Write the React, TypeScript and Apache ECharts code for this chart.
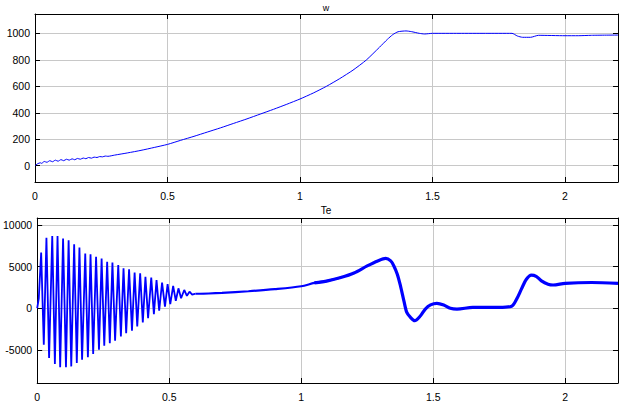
import React, { useEffect, useRef } from "react";
import * as echarts from "echarts";

const xTicks = [0, 0.5, 1, 1.5, 2];
const wTicks = [0, 200, 400, 600, 800, 1000];
const teTicks = [-5000, 0, 5000, 10000];

const wTime = [
  0, 0.01, 0.02, 0.025, 0.035, 0.045, 0.056, 0.066, 0.077, 0.087, 0.098, 0.108,
  0.119, 0.129, 0.14, 0.15, 0.16, 0.171, 0.182, 0.192, 0.202, 0.213, 0.223,
  0.234, 0.244, 0.255, 0.265, 0.275, 0.3, 0.35, 0.4, 0.45, 0.5, 0.55, 0.6,
  0.65, 0.7, 0.75, 0.8, 0.85, 0.9, 0.95, 1.0, 1.05, 1.1, 1.15, 1.2, 1.25, 1.3,
  1.33, 1.35, 1.37, 1.4, 1.42, 1.45, 1.47, 1.5, 1.6, 1.7, 1.8, 1.82, 1.84,
  1.87, 1.9, 2.0, 2.05, 2.1, 2.2,
];
const wValues = [
  0, 15, 22, 18, 32, 26, 38, 30, 42, 34, 46, 38, 49, 42, 52, 45, 55, 49, 58,
  53, 62, 57, 65, 62, 69, 67, 73, 71, 80, 97, 116, 138, 161, 192, 222, 254,
  286, 320, 354, 390, 426, 464, 504, 549, 600, 658, 722, 798, 895, 955, 990,
  1012, 1018, 1013, 1000, 995, 1000, 1000, 1000, 1000, 980, 970, 970, 985,
  982, 982, 985, 987,
];

const teOscTime = [
  0, 0.006, 0.015, 0.025, 0.035, 0.045, 0.057, 0.067, 0.077, 0.087, 0.098,
  0.109, 0.119, 0.129, 0.14, 0.15, 0.16, 0.17, 0.182, 0.192, 0.202, 0.212,
  0.223, 0.234, 0.244, 0.254, 0.265, 0.275, 0.285, 0.295, 0.307, 0.317, 0.327,
  0.337, 0.348, 0.359, 0.369, 0.379, 0.39, 0.4, 0.41, 0.42, 0.432, 0.442,
  0.452, 0.462, 0.473, 0.484, 0.494, 0.504, 0.515, 0.525, 0.535, 0.545, 0.557,
  0.567, 0.577, 0.587, 0.6,
];
const teOscValues = [
  0, 1200, 6700, -4400, 8500, -6000, 8700, -6700, 8700, -7100, 8400, -7100,
  8200, -7000, 7700, -6600, 7300, -6200, 6600, -5900, 6500, -5500, 6200,
  -5000, 6000, -4500, 5600, -4200, 5500, -3900, 5200, -3400, 4800, -3000,
  4700, -2700, 4300, -2200, 4200, -1700, 3800, -1200, 3700, -700, 3400, -300,
  3100, 200, 2900, 500, 2700, 900, 2400, 1200, 2200, 1500, 2000, 1650, 1750,
];

const teMidTime = [0.6, 0.65, 0.7, 0.8, 0.9, 1.0, 1.05, 1.1, 1.15];
const teMidValues = [1750, 1780, 1850, 2050, 2300, 2650, 3050, 3300, 3700];

const teTime = [
  1.05, 1.1, 1.15, 1.2, 1.25, 1.29, 1.32, 1.339, 1.351, 1.364, 1.376, 1.389,
  1.4, 1.414, 1.43, 1.452, 1.47, 1.49, 1.514, 1.54, 1.565, 1.59, 1.65, 1.75,
  1.797, 1.816, 1.834, 1.853, 1.872, 1.89, 1.91, 1.935, 1.954, 2.0, 2.1, 2.2,
];
const teValues = [
  3050, 3300, 3700, 4250, 5100, 5700, 6000, 5700, 5100, 4100, 2700, 900, -500,
  -1100, -1500, -900, -100, 400, 600, 400, 0, -100, 100, 100, 250, 1100, 2300,
  3500, 4000, 3850, 3300, 2900, 2800, 3000, 3100, 3000,
];

const zip = (t: number[], v: number[]) => t.map((x, i) => [x, v[i]]);

const FONT = "'Liberation Sans', Arial, sans-serif";
const BLUE = "#0000ff";

export default function App() {
  const ref = useRef<HTMLDivElement>(null);
  useEffect(() => {
    if (!ref.current) return;
    const chart = echarts.init(ref.current, null, { renderer: "svg" });
    const frame = { show: true, onZero: false, lineStyle: { color: "#000", width: 1 } };
    const gridLine = { show: true, lineStyle: { color: "#c8c8c8", width: 1 } };
    const tick = { show: true, inside: true, length: 5, lineStyle: { color: "#000" } };
    const xMain = (gi: number) => ({
      type: "value",
      gridIndex: gi,
      min: 0,
      max: 2.2,
      interval: 0.5,
      position: "bottom",
      axisLine: frame,
      axisTick: tick,
      splitLine: gridLine,
      axisLabel: {
        color: "#000",
        fontSize: 10.5,
        fontFamily: FONT,
        margin: 8,
        showMaxLabel: false,
        formatter: (v: number) => (xTicks.includes(v) ? String(v) : ""),
      },
    });
    const xTop = (gi: number) => ({
      type: "value",
      gridIndex: gi,
      min: 0,
      max: 2.2,
      interval: 0.5,
      position: "top",
      axisLine: frame,
      axisTick: tick,
      splitLine: { show: false },
      axisLabel: { show: false },
    });
    const yMain = (gi: number, min: number, max: number, ticks: number[]) => ({
      type: "value",
      gridIndex: gi,
      min,
      max,
      position: "left",
      axisLine: frame,
      axisTick: { ...tick, customValues: ticks },
      splitLine: gridLine,
      axisLabel: {
        color: "#000",
        fontSize: 10.5,
        fontFamily: FONT,
        margin: 5,
        customValues: ticks,
        formatter: (v: number) => String(v),
      },
    });
    const yRight = (gi: number, min: number, max: number, ticks: number[]) => ({
      type: "value",
      gridIndex: gi,
      min,
      max,
      position: "right",
      axisLine: frame,
      axisTick: { ...tick, customValues: ticks },
      splitLine: { show: false },
      axisLabel: { show: false, customValues: ticks },
    });

    chart.setOption({
      animation: false,
      backgroundColor: "#fff",
      grid: [
        { left: 35, top: 14, right: 3, height: 168 },
        { left: 35, top: 218, right: 3, height: 167 },
      ],
      xAxis: [xMain(0), xTop(0), xMain(1), xTop(1)],
      yAxis: [
        yMain(0, -123, 1146, wTicks),
        yRight(0, -123, 1146, wTicks),
        yMain(1, -9000, 10870, teTicks),
        yRight(1, -9000, 10870, teTicks),
      ],
      graphic: [
        {
          type: "text",
          x: 326,
          y: 3,
          style: { text: "w", fill: "#000", font: `9px ${FONT}`, textAlign: "center" },
        },
        {
          type: "text",
          x: 326,
          y: 205,
          style: { text: "Te", fill: "#000", font: `10px ${FONT}`, textAlign: "center" },
        },
      ],
      series: [
        {
          type: "line",
          xAxisIndex: 0,
          yAxisIndex: 0,
          data: zip(wTime, wValues),
          showSymbol: false,
          smooth: 0.2,
          lineStyle: { color: BLUE, width: 1 },
        },
        {
          type: "line",
          xAxisIndex: 2,
          yAxisIndex: 2,
          data: zip(teOscTime, teOscValues),
          showSymbol: false,
          lineStyle: { color: BLUE, width: 1.8 },
        },
        {
          type: "line",
          xAxisIndex: 2,
          yAxisIndex: 2,
          data: zip(teMidTime, teMidValues),
          showSymbol: false,
          smooth: 0.3,
          lineStyle: { color: BLUE, width: 2.2 },
        },
        {
          type: "line",
          xAxisIndex: 2,
          yAxisIndex: 2,
          data: zip(teTime, teValues),
          showSymbol: false,
          smooth: 0.3,
          lineStyle: { color: BLUE, width: 3.2 },
        },
      ],
    });
    return () => chart.dispose();
  }, []);
  return <div ref={ref} style={{ width: 621, height: 402, position: "absolute", left: 0, top: 0 }} />;
}
